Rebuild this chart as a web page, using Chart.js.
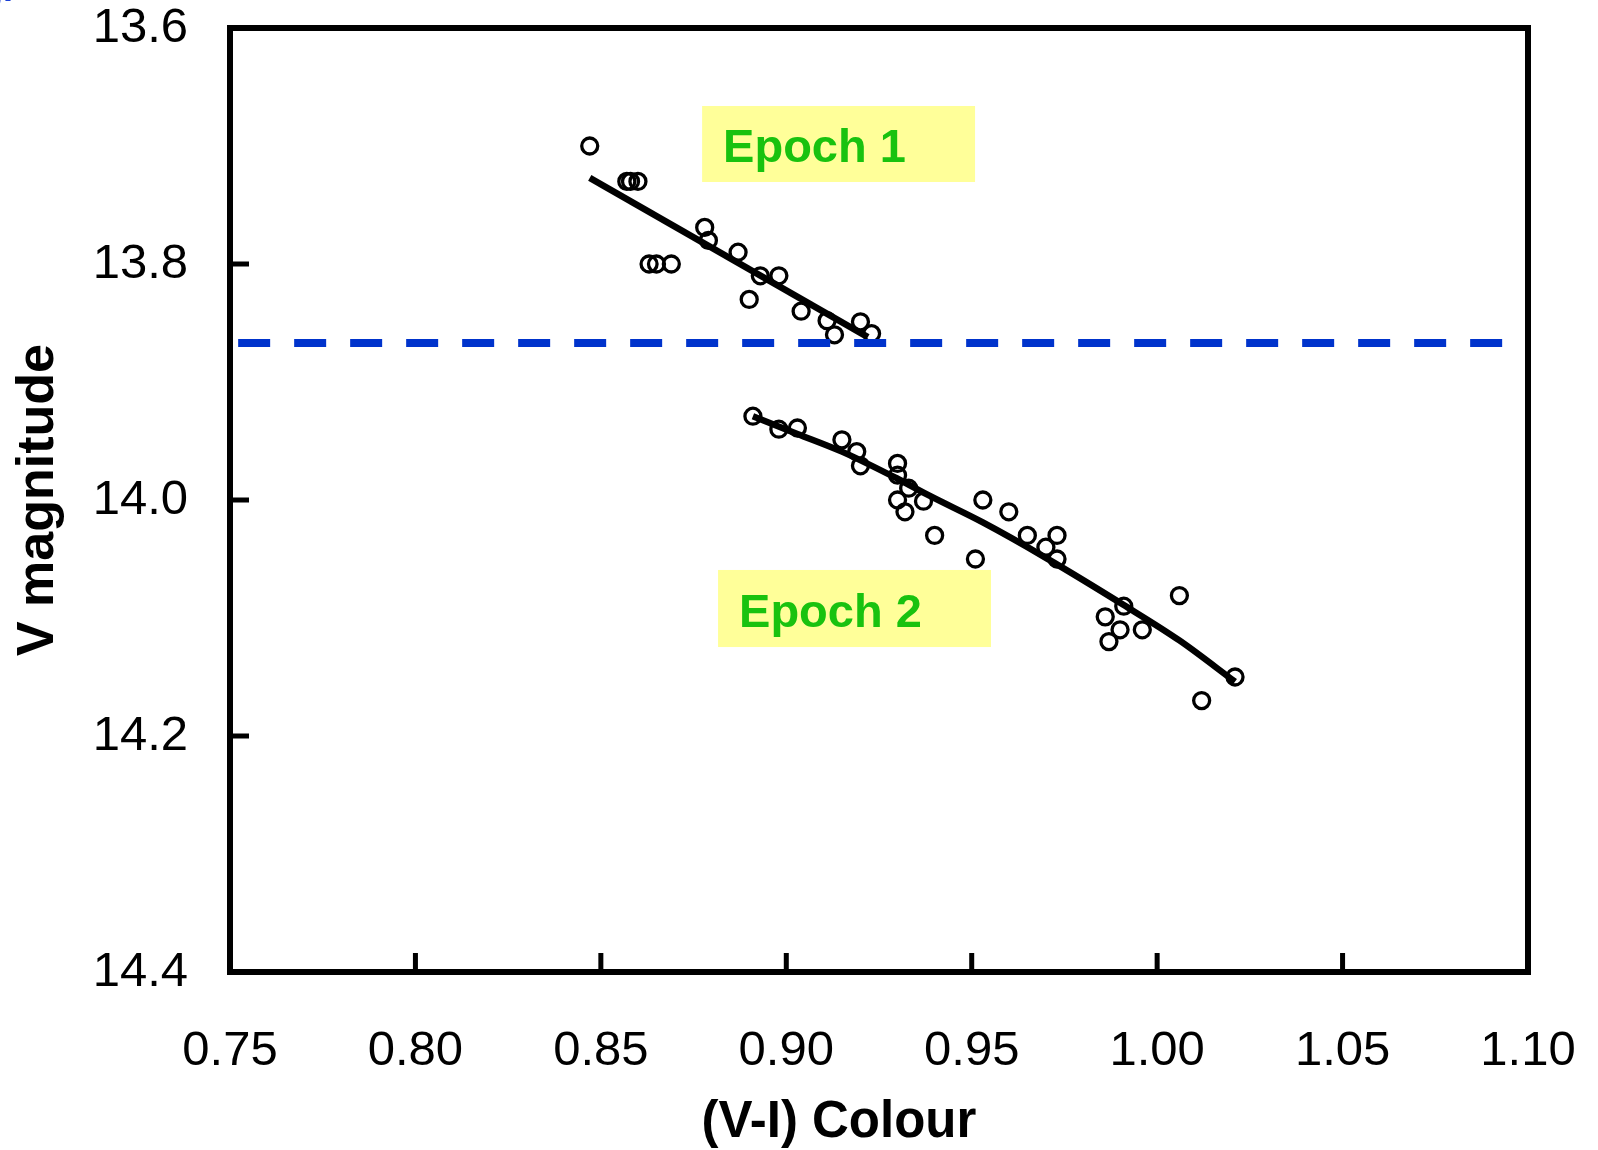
<!DOCTYPE html>
<html>
<head>
<meta charset="utf-8">
<title>V magnitude vs (V-I) colour</title>
<script src="https://cdn.jsdelivr.net/npm/chart.js@4.4.0/dist/chart.umd.min.js"></script>
<style>
  html, body { margin: 0; padding: 0; background: #fff; }
  #wrap { width: 1598px; height: 1150px; position: relative; }
</style>
</head>
<body>
<div id="wrap"><canvas id="cmd"></canvas></div>
<script>
// Epoch 1 photometry: (V-I) colour and V magnitude
const epoch1Colour = [0.847, 0.857, 0.858, 0.860, 0.863, 0.865, 0.869, 0.878, 0.879, 0.887, 0.890, 0.893, 0.898, 0.904, 0.911, 0.913, 0.920, 0.923];
const epoch1Mag    = [13.700, 13.730, 13.730, 13.730, 13.800, 13.800, 13.800, 13.769, 13.780, 13.790, 13.830, 13.810, 13.810, 13.840, 13.848, 13.860, 13.849, 13.859];

// Epoch 2 photometry
const epoch2Colour = [0.891, 0.898, 0.903, 0.915, 0.919, 0.920, 0.930, 0.930, 0.930, 0.933, 0.932, 0.937, 0.940, 0.953, 0.951, 0.960, 0.965, 0.973, 0.970, 0.973, 1.006, 0.991, 0.986, 0.990, 0.987, 0.996, 1.021, 1.012];
const epoch2Mag    = [13.929, 13.940, 13.939, 13.949, 13.959, 13.971, 13.969, 13.979, 14.000, 13.990, 14.010, 14.001, 14.030, 14.000, 14.050, 14.010, 14.030, 14.030, 14.040, 14.050, 14.081, 14.090, 14.099, 14.110, 14.120, 14.110, 14.150, 14.170];

// fitted trends
const fit1Colour = [0.847, 0.922];
const fit1Mag    = [13.727, 13.862];
const fit2Colour = [0.891, 0.903, 0.915, 0.930, 0.939, 0.953, 0.970, 0.991, 1.006, 1.021];
const fit2Mag    = [13.929, 13.944, 13.959, 13.982, 13.997, 14.019, 14.049, 14.089, 14.119, 14.154];

// reference magnitude level
const refColour = [0.7522, 1.0933];
const refMag    = [13.867, 13.867];

const xTicks = [0.75, 0.80, 0.85, 0.90, 0.95, 1.00, 1.05, 1.10];
const yTicks = [13.6, 13.8, 14.0, 14.2, 14.4];

const epochLabels = [
  { text: 'Epoch 1', x0: 0.8773, x1: 0.9509, y0: 13.6661, y1: 13.7305 },
  { text: 'Epoch 2', x0: 0.8816, x1: 0.9552, y0: 14.0593, y1: 14.1246 }
];

const FONT = '"Liberation Sans", Arial, Helvetica, sans-serif';

function toPoints(xs, ys) {
  return xs.map((x, i) => ({ x: x, y: ys[i] }));
}

// frame, inward tick marks, the yellow epoch boxes and the x title
const framePlugin = {
  id: 'frame',
  beforeDatasetsDraw(chart) {
    const ctx = chart.ctx;
    const a = chart.chartArea;
    const xs = chart.scales.x;
    const ys = chart.scales.y;
    ctx.save();

    epochLabels.forEach(lab => {
      const l = xs.getPixelForValue(lab.x0);
      const r = xs.getPixelForValue(lab.x1);
      const t = ys.getPixelForValue(lab.y0);
      const b = ys.getPixelForValue(lab.y1);
      ctx.fillStyle = '#ffff99';
      ctx.fillRect(l, t, r - l, b - t);
      ctx.fillStyle = '#19c20f';
      ctx.font = 'bold 47px ' + FONT;
      ctx.textBaseline = 'alphabetic';
      ctx.textAlign = 'left';
      ctx.fillText(lab.text, l + 21, b - 20);
    });

    ctx.strokeStyle = '#000';
    ctx.lineWidth = 6;
    ctx.strokeRect(a.left, a.top, a.right - a.left, a.bottom - a.top);

    ctx.lineWidth = 5;
    ctx.beginPath();
    xTicks.slice(1, -1).forEach(v => {
      const px = xs.getPixelForValue(v);
      ctx.moveTo(px, a.bottom);
      ctx.lineTo(px, a.bottom - 19);
    });
    yTicks.slice(1, -1).forEach(v => {
      const py = ys.getPixelForValue(v);
      ctx.moveTo(a.left, py);
      ctx.lineTo(a.left + 19, py);
    });
    ctx.stroke();

    // x axis title sits a little left of the plot centre
    ctx.fillStyle = '#000';
    ctx.font = 'bold 51px ' + FONT;
    ctx.textAlign = 'center';
    ctx.textBaseline = 'middle';
    ctx.fillText('(V-I) Colour', xs.getPixelForValue(0.9142), xs.bottom - 27);

    // clipped caption fragment in the corner
    ctx.fillStyle = '#1a3fd6';
    ctx.font = 'bold 36px ' + FONT;
    ctx.textAlign = 'left';
    ctx.textBaseline = 'alphabetic';
    ctx.fillText('g.', -19, 1);
    ctx.restore();
  }
};

const pointStyle = {
  type: 'scatter',
  showLine: false,
  pointRadius: 8,
  pointHoverRadius: 8,
  pointBorderWidth: 3.3,
  borderColor: '#000',
  backgroundColor: 'rgba(0,0,0,0)',
  order: 3
};

new Chart(document.getElementById('cmd'), {
  type: 'scatter',
  data: {
    datasets: [
      Object.assign({ label: 'Epoch 1', data: toPoints(epoch1Colour, epoch1Mag) }, pointStyle),
      Object.assign({ label: 'Epoch 2', data: toPoints(epoch2Colour, epoch2Mag) }, pointStyle),
      {
        label: 'Fit 1', type: 'line', data: toPoints(fit1Colour, fit1Mag),
        borderColor: '#000', borderWidth: 6.5, pointRadius: 0, fill: false, order: 2
      },
      {
        label: 'Fit 2', type: 'line', data: toPoints(fit2Colour, fit2Mag),
        borderColor: '#000', borderWidth: 6.5, pointRadius: 0, fill: false,
        cubicInterpolationMode: 'monotone', order: 2
      },
      {
        label: 'Reference', type: 'line', data: toPoints(refColour, refMag),
        borderColor: '#0033cc', borderWidth: 8, borderDash: [32, 24], borderCapStyle: 'butt',
        pointRadius: 0, fill: false, order: 1
      }
    ]
  },
  options: {
    responsive: true,
    maintainAspectRatio: false,
    animation: false,
    layout: { padding: { top: 28, right: 70, bottom: 0, left: 0 } },
    plugins: {
      legend: { display: false },
      tooltip: { enabled: false }
    },
    scales: {
      x: {
        type: 'linear',
        min: 0.75,
        max: 1.10,
        afterBuildTicks: s => { s.ticks = xTicks.map(v => ({ value: v })); },
        afterFit: s => { s.height = 178; s.paddingLeft = 0; s.paddingRight = 0; },
        grid: { display: false, drawTicks: false },
        border: { display: false },
        ticks: {
          padding: 50,
          color: '#000',
          font: { family: FONT, size: 49 },
          callback: v => Number(v).toFixed(2)
        },
        title: { display: false }
      },
      y: {
        type: 'linear',
        reverse: true,
        min: 13.6,
        max: 14.4,
        afterBuildTicks: s => { s.ticks = yTicks.map(v => ({ value: v })); },
        afterFit: s => { s.width = 230; s.paddingTop = 0; s.paddingBottom = 0; },
        grid: { display: false, drawTicks: false },
        border: { display: false },
        ticks: {
          padding: 42,
          color: '#000',
          font: { family: FONT, size: 49 },
          callback: v => Number(v).toFixed(1)
        },
        title: {
          display: true,
          text: 'V magnitude',
          color: '#000',
          font: { family: FONT, size: 52, weight: 'bold', lineHeight: 1 },
          padding: { top: 13, bottom: 0 }
        }
      }
    }
  },
  plugins: [framePlugin]
});
</script>
</body>
</html>
